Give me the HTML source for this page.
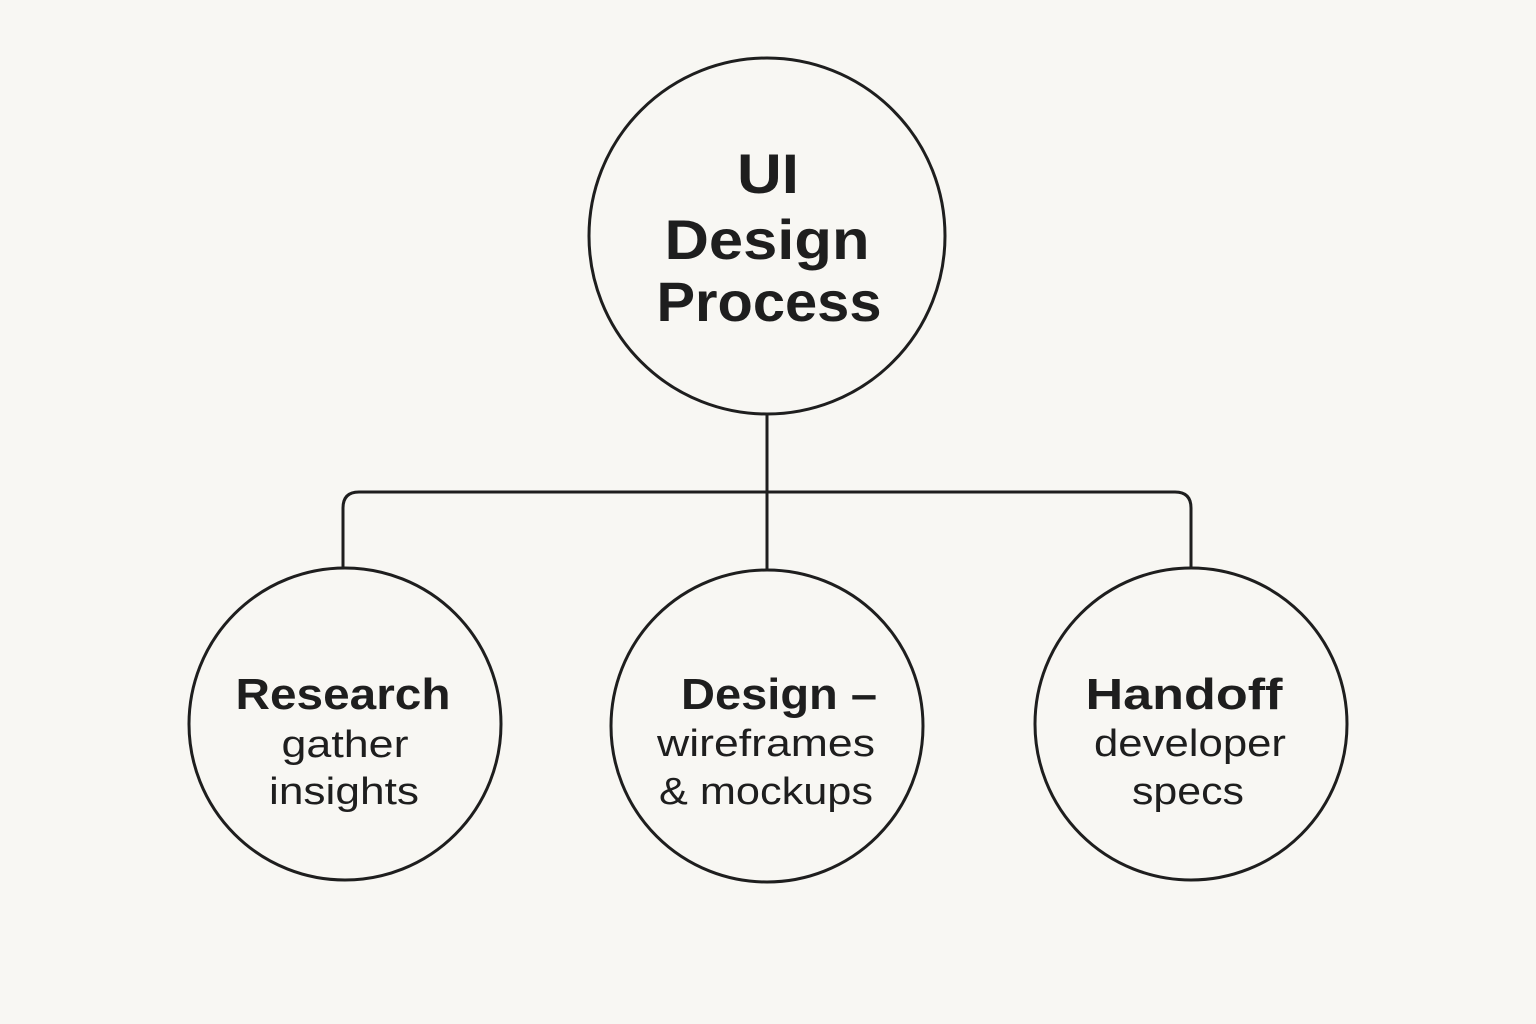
<!DOCTYPE html>
<html><head><meta charset="utf-8"><style>
html,body{margin:0;padding:0;background:#f8f7f3;}
svg{display:block}
text{font-family:"Liberation Sans",sans-serif;fill:#1e1e1e;text-anchor:middle}
</style></head><body>
<svg width="1536" height="1024" viewBox="0 0 1536 1024">
<rect width="1536" height="1024" fill="#f8f7f3"/>
<g fill="none" stroke="#1e1e1e" stroke-width="3">
<circle cx="767" cy="236" r="178"/>
<circle cx="345" cy="724" r="156"/>
<circle cx="767" cy="726" r="156"/>
<circle cx="1191" cy="724" r="156"/>
<line x1="767" y1="414" x2="767" y2="570"/>
<path d="M343 568 V508 Q343 492 359 492 H1175 Q1191 492 1191 508 V568"/>
</g>
<g font-weight="bold" lengthAdjust="spacingAndGlyphs">
<text x="768" y="193" font-size="56" textLength="62" lengthAdjust="spacingAndGlyphs">UI</text>
<text x="767" y="259" font-size="56" textLength="205" lengthAdjust="spacingAndGlyphs">Design</text>
<text x="769" y="321" font-size="56" textLength="225" lengthAdjust="spacingAndGlyphs">Process</text>
<text x="343" y="709" font-size="44" textLength="215" lengthAdjust="spacingAndGlyphs">Research</text>
<text x="779" y="709" font-size="44" textLength="196" lengthAdjust="spacingAndGlyphs">Design –</text>
<text x="1184" y="709" font-size="44" textLength="197" lengthAdjust="spacingAndGlyphs">Handoff</text>
</g>
<g font-size="38">
<text x="345" y="757" textLength="127" lengthAdjust="spacingAndGlyphs">gather</text>
<text x="344" y="804" textLength="150" lengthAdjust="spacingAndGlyphs">insights</text>
<text x="766" y="756" textLength="218" lengthAdjust="spacingAndGlyphs">wireframes</text>
<text x="766" y="804" textLength="214" lengthAdjust="spacingAndGlyphs">&amp; mockups</text>
<text x="1190" y="756" textLength="192" lengthAdjust="spacingAndGlyphs">developer</text>
<text x="1188" y="804" textLength="112" lengthAdjust="spacingAndGlyphs">specs</text>
</g>
</svg>
</body></html>
